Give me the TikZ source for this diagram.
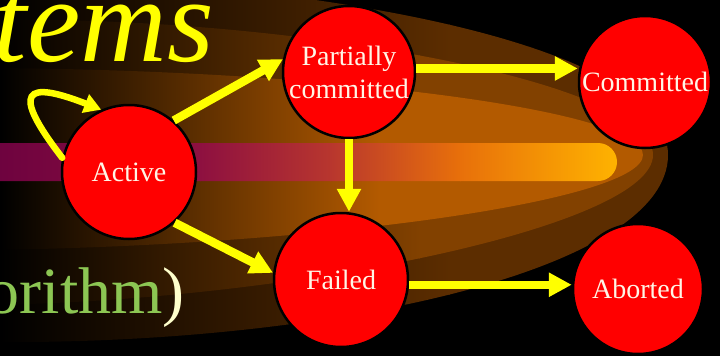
\documentclass[tikz,border=0pt]{standalone}
\usepackage{fontspec}
\setmainfont{Liberation Serif}
\usetikzlibrary{arrows.meta}
\definecolor{glowA}{HTML}{5C2D00}
\definecolor{glowB}{HTML}{824100}
\definecolor{glowC}{HTML}{B35A00}
\definecolor{barA}{HTML}{68003F}
\definecolor{barB}{HTML}{8E1040}
\definecolor{barC}{HTML}{B8362E}
\definecolor{barD}{HTML}{E8700A}
\definecolor{barE}{HTML}{FFB400}
\definecolor{arrowyellow}{HTML}{FFFF00}
\definecolor{statetext}{HTML}{FFF5E6}
\definecolor{algreen}{HTML}{8CC653}
\definecolor{paren}{HTML}{FFFFCC}
\begin{document}
\begin{tikzpicture}[x=1pt,y=-1pt,
  state/.style={circle, draw=black, line width=2.5pt, fill=red, text=statetext,
    inner sep=0pt, align=center, font=\fontsize{28}{33}\selectfont},
  flow/.style={draw=arrowyellow, line width=8.5pt, -{Triangle[length=23pt,width=23pt]}},
  loopflow/.style={draw=arrowyellow, line width=6.5pt, line cap=round, -{Triangle[length=17pt,width=19pt]}},
]
\useasboundingbox (0,0) rectangle (720,356);
\fill[black] (0,0) rectangle (720,356);
% glow layers
\begin{scope}
  \clip (-10,-25) .. controls (300,-20) and (668,40) .. (668,155)
        .. controls (668,270) and (330,345) .. (-10,342) -- cycle;
  \shade[left color=black, right color=glowA] (0,-40) rectangle (450,400);
  \fill[glowA] (449,-40) rectangle (720,400);
\end{scope}
\begin{scope}
  \clip (-10,20) .. controls (280,15) and (653,80) .. (653,155)
        .. controls (653,225) and (300,300) .. (-10,305) -- cycle;
  \shade[left color=black, right color=glowB] (0,-40) rectangle (420,400);
  \fill[glowB] (419,-40) rectangle (720,400);
\end{scope}
\begin{scope}
  \clip (-10,68) .. controls (330,70) and (643,110) .. (643,155)
        .. controls (643,200) and (330,245) .. (-10,250) -- cycle;
  \shade[left color=black, right color=glowC] (0,-40) rectangle (380,400);
  \fill[glowC] (379,-40) rectangle (720,400);
\end{scope}
% bar
\begin{scope}
  \clip[rounded corners=19pt] (-40,143) rectangle (617,181);
  \shade[left color=barA, right color=barB] (-40,140) rectangle (201,185);
  \shade[left color=barB, right color=barC] (200,140) rectangle (331,185);
  \shade[left color=barC, right color=barD] (330,140) rectangle (461,185);
  \shade[left color=barD, right color=barE] (460,140) rectangle (620,185);
\end{scope}
% title fragments
\node[anchor=base east, inner sep=0pt, text=arrowyellow, font=\fontsize{120}{120}\selectfont\itshape] (tems) at (214,61) {tems};
\node[anchor=base east, inner sep=0pt, font=\fontsize{66}{66}\selectfont] (alg) at (185,313) {\textcolor{algreen}{orithm}\textcolor{paren}{)}};
% states
\node[state, minimum size=134pt] (act) at (129,172) {Active};
\node[state, minimum size=132pt] (pc) at (349,72) {Partially\\committed};
\node[state, minimum size=132pt] (cm) at (645,82) {Committed};
\node[state, minimum size=134pt] (fl) at (341,280) {Failed};
\node[state, minimum size=130pt] (ab) at (638,289) {Aborted};
% transitions
\draw[loopflow] (act.168) .. controls (10,90) and (25,80) .. (act.114);
\draw[flow] (act.49) -- (pc.169);
\draw[flow] (act.-48) -- (fl.174);
\draw[flow] (pc.south) -- (pc.south |- fl.north);
\draw[flow] (pc.3) -- (pc.3 -| cm.west);
\draw[flow] (fl.-4) -- (fl.-4 -| ab.west);
\end{tikzpicture}
\end{document}
